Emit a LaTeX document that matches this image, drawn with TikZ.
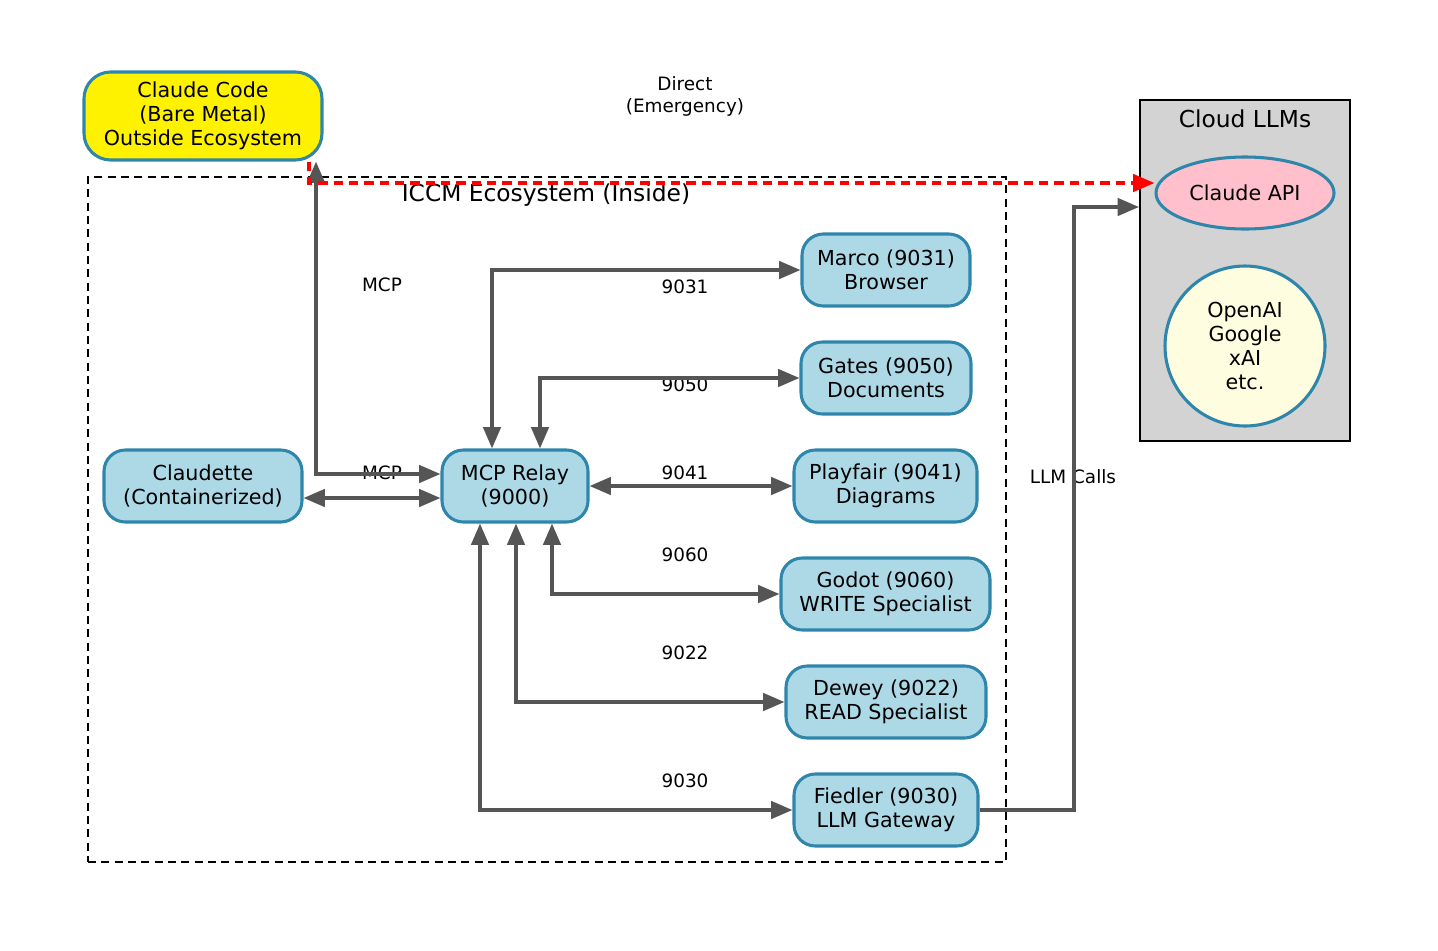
\documentclass[tikz,border=0pt]{standalone}
\usepackage{fontspec}
\setmainfont{DejaVu Sans}
\usetikzlibrary{arrows.meta,shapes.geometric}
\definecolor{bordc}{HTML}{2E86AB}
\definecolor{boxblue}{HTML}{ADD8E6}
\definecolor{arrgray}{HTML}{555555}
\definecolor{ltyellow}{HTML}{FFFDE0}
\definecolor{pinkc}{HTML}{FFC0CB}
\definecolor{cloudgray}{HTML}{D3D3D3}
\tikzset{
  svc/.style={draw=bordc, line width=2.3pt, fill=boxblue, rounded corners=16pt, align=center, inner sep=0pt, minimum height=54pt, font=\fontsize{15.5}{18}\selectfont},
  lbl/.style={align=center, inner sep=0pt, font=\fontsize{13.8}{16.5}\selectfont},
  ttl/.style={align=center, inner sep=0pt, font=\fontsize{17.5}{20}\selectfont},
  arr/.style={draw=arrgray, line width=2.6pt, -{Triangle[length=16pt,width=13pt]}},
  darr/.style={draw=arrgray, line width=2.6pt, {Triangle[length=16pt,width=13pt]}-{Triangle[length=16pt,width=13pt]}},
}
\begin{document}
\begin{tikzpicture}[x=0.75pt,y=-0.75pt]
\useasboundingbox (0,0) rectangle (1438,950);
% containers
\node[draw=black, dashed, dash pattern=on 6pt off 4pt, line width=1.5pt, minimum width=688.5pt, minimum height=513.75pt, inner sep=0pt] (eco) at (547,519.5) {};
\node[ttl] (ecot) at (546,195) {ICCM Ecosystem (Inside)};
\node[draw=black, fill=cloudgray, line width=1.5pt, minimum width=157.5pt, minimum height=255.75pt, inner sep=0pt] (cloud) at (1245,270.5) {};
\node[ttl] (cloudt) at (1245,119) {Cloud LLMs};
% nodes
\node[svc, fill=yellow, minimum width=178.5pt, minimum height=66pt, rounded corners=20pt] (cc) at (203,116) {Claude Code\\(Bare Metal)\\Outside Ecosystem};
\node[svc, minimum width=148.5pt] (claudette) at (203,486) {Claudette\\(Containerized)};
\node[svc, minimum width=109.5pt] (relay) at (515,486) {MCP Relay\\(9000)};
\node[svc, minimum width=126pt] (marco) at (886,270) {Marco (9031)\\Browser};
\node[svc, minimum width=127.5pt] (gates) at (886,378) {Gates (9050)\\Documents};
\node[svc, minimum width=137.25pt] (playfair) at (885.5,486) {Playfair (9041)\\Diagrams};
\node[svc, minimum width=156.75pt] (godot) at (885.5,594) {Godot (9060)\\WRITE Specialist};
\node[svc, minimum width=150pt] (dewey) at (886,702) {Dewey (9022)\\READ Specialist};
\node[svc, minimum width=138pt] (fiedler) at (886,810) {Fiedler (9030)\\LLM Gateway};
\node[ellipse, draw=bordc, line width=2.3pt, fill=pinkc, minimum width=133.5pt, minimum height=54pt, inner sep=0pt, font=\fontsize{15.5}{18}\selectfont] (api) at (1245,193) {Claude API};
\node[circle, draw=bordc, line width=2.3pt, fill=ltyellow, minimum size=120pt, inner sep=0pt, align=center, font=\fontsize{15.5}{18}\selectfont] (others) at (1245,346) {OpenAI\\Google\\xAI\\etc.};
% helper coordinates
\coordinate (x309) at (309,0);
\coordinate (x316) at (316,0);
\coordinate (x480) at (480,0);
\coordinate (x492) at (492,0);
\coordinate (x516) at (516,0);
\coordinate (x540) at (540,0);
\coordinate (x552) at (552,0);
\coordinate (x1074) at (1074,0);
\coordinate (y183) at (0,183);
\coordinate (y207) at (0,207);
\coordinate (y474) at (0,474);
\coordinate (y498) at (0,498);
% labels
\node[lbl] (lmcp1) at (382,285) {MCP};
\node[lbl] (lmcp2) at (382,473) {MCP};
\node[lbl] (l9031) at (685,287) {9031};
\node[lbl] (l9050) at (685,385) {9050};
\node[lbl] (l9041) at (685,473) {9041};
\node[lbl] (l9060) at (685,555) {9060};
\node[lbl] (l9022) at (685,653) {9022};
\node[lbl] (l9030) at (685,781) {9030};
\node[lbl] (lllm) at (1073,477) {LLM Calls};
\node[lbl] (ldirect) at (685,96) {Direct\\(Emergency)};
% connectors
\draw[darr] (x316 |- cc.south) -- (x316 |- y474) -- (relay.west |- y474);
\draw[darr] (claudette.east |- y498) -- (relay.west |- y498);
\draw[darr] (x492 |- relay.north) -- (x492 |- marco.west) -- (marco.west);
\draw[darr] (x540 |- relay.north) -- (x540 |- gates.west) -- (gates.west);
\draw[darr] (relay.east) -- (playfair.west);
\draw[darr] (x552 |- relay.south) -- (x552 |- godot.west) -- (godot.west);
\draw[darr] (x516 |- relay.south) -- (x516 |- dewey.west) -- (dewey.west);
\draw[darr] (x480 |- relay.south) -- (x480 |- fiedler.west) -- (fiedler.west);
\draw[arr] (fiedler.east) -- (x1074 |- fiedler.east) -- (x1074 |- y207) -- (cloud.west |- y207);
\draw[red, line width=2.6pt, dash pattern=on 7pt off 4.5pt, -{Triangle[length=16pt,width=13pt]}] (x309 |- cc.south) -- (x309 |- y183) -- (api.west |- y183);
\end{tikzpicture}
\end{document}
